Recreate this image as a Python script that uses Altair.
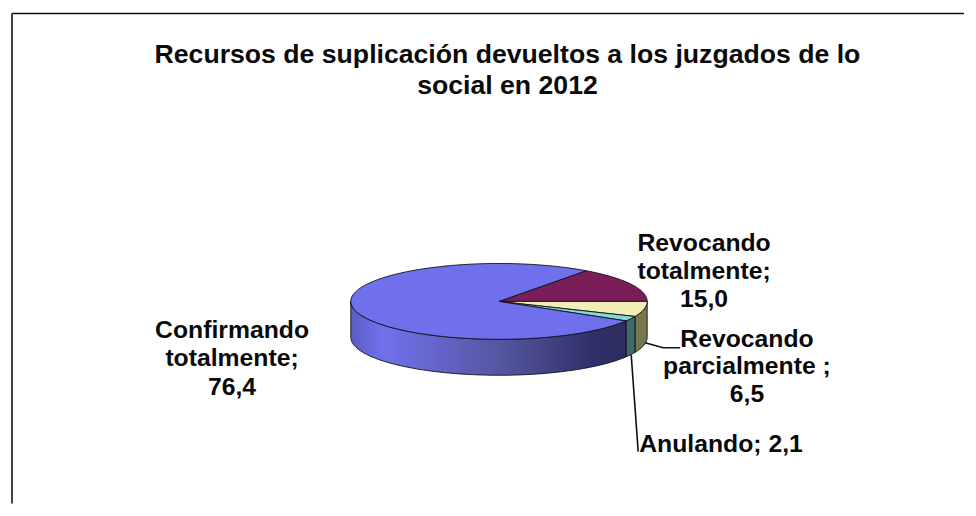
import numpy as np
import pandas as pd
import altair as alt

# --- data ---
categories = ["Revocando totalmente", "Revocando parcialmente", "Anulando", "Confirmando totalmente"]
values = [15.0, 6.5, 2.1, 76.4]
top_colors = ["#7A1E5A", "#F0EEB2", "#86D8D8", "#7070EC"]
side_colors = [None, "#77774F", "#3F6B6B", None]
title_lines = ["Recursos de suplicación devueltos a los juzgados de lo", "social en 2012"]
label_lines = [
    ("Revocando", 705, 244), ("totalmente;", 705, 272), ("15,0", 705, 300),
    ("Revocando", 748, 340), ("parcialmente ;", 748, 367), ("6,5", 748, 395),
    ("Anulando; 2,1", 722, 445),
    ("Confirmando", 232, 331), ("totalmente;", 232, 359), ("76,4", 232, 388),
]

# --- layout of the tilted pie (page pixels) ---
CX, CY, RX, RY, DEPTH = 499.5, 301.5, 148.5, 38.0, 36.0
W, H = 955, 496
X0, Y0 = 10.5, 8
xs = alt.X("x:Q", axis=None, scale=alt.Scale(domain=[X0, X0 + W], nice=False, zero=False))
ys = alt.Y("y:Q", axis=None, scale=alt.Scale(domain=[Y0 + H, Y0], nice=False, zero=False))


def arc(a0, a1, dy=0.0):
    n = max(3, int(abs(a1 - a0) / 1.5))
    t = np.radians(np.linspace(a0, a1, n))
    return list(CX + RX * np.cos(t)), list(CY + dy - RY * np.sin(t))


def frame(px, py):
    return pd.DataFrame({"x": px, "y": py, "i": range(len(px))})


def poly(px, py, fill, sw=0.9):
    return alt.Chart(frame(px, py)).mark_line(
        fill=fill, stroke="#101018", strokeWidth=sw, strokeJoin="round"
    ).encode(x=xs, y=ys, order="i:Q")


# cumulative angles: first slice ends at 0 deg (3 o'clock), clockwise after that
start = values[0] * 3.6
edges = [start]
for v in values:
    edges.append(edges[-1] - v * 3.6)

layers = []

# frame of the picture
for px, py in [([X0 + 1, X0 + W], [13, 13]), ([X0 + 1, X0 + 1], [13, Y0 + H])]:
    layers.append(alt.Chart(frame(px, py)).mark_line(stroke="#111111", strokeWidth=1.6).encode(x=xs, y=ys, order="i:Q"))

# rim of the cylinder
side_gradient = alt.Gradient(
    gradient="linear", x1=0, x2=1, y1=0, y2=0,
    stops=[
        alt.GradientStop(offset=0.0, color="#5C5CC2"),
        alt.GradientStop(offset=0.11, color="#7070EC"),
        alt.GradientStop(offset=0.2, color="#6C6CDE"),
        alt.GradientStop(offset=0.55, color="#55559F"),
        alt.GradientStop(offset=0.88, color="#303068"),
        alt.GradientStop(offset=1.0, color="#2C2C62"),
    ],
)
for i in (1, 2, 3):
    a0 = edges[i]
    a1 = max(edges[i + 1], -180.0)
    ax, ay = arc(a0, a1)
    bx, by = arc(a1, a0, DEPTH)
    fill = side_gradient if i == 3 else side_colors[i]
    layers.append(poly(ax + bx + ax[:1], ay + by + ay[:1], fill))

# top surface
for i in range(4):
    ax, ay = arc(edges[i], edges[i + 1])
    layers.append(poly([CX] + ax + [CX], [CY] + ay + [CY], top_colors[i]))

# leader lines
for px, py in [([646, 664, 681], [343, 348, 348]), ([632, 639], [355, 452])]:
    layers.append(alt.Chart(frame(px, py)).mark_line(stroke="#111111", strokeWidth=1.6).encode(x=xs, y=ys, order="i:Q"))

# title
title_df = pd.DataFrame({"t": title_lines, "x": [508, 508], "y": [55, 86]})
layers.append(alt.Chart(title_df).mark_text(
    font="Liberation Sans", fontWeight="bold", fontSize=26.7, color="#0A0A0A", align="center", baseline="middle"
).encode(x=xs, y=ys, text="t:N"))

# labels
lab_df = pd.DataFrame(label_lines, columns=["t", "x", "y"])
layers.append(alt.Chart(lab_df).mark_text(
    font="Liberation Sans", fontWeight="bold", fontSize=24.8, color="#0A0A0A", align="center", baseline="middle"
).encode(x=xs, y=ys, text="t:N"))

chart = alt.layer(*layers).properties(width=W, height=H, padding=0, background="white").configure_view(stroke=None)
chart.save("out.html", embed_options={"renderer": "svg", "actions": False})
